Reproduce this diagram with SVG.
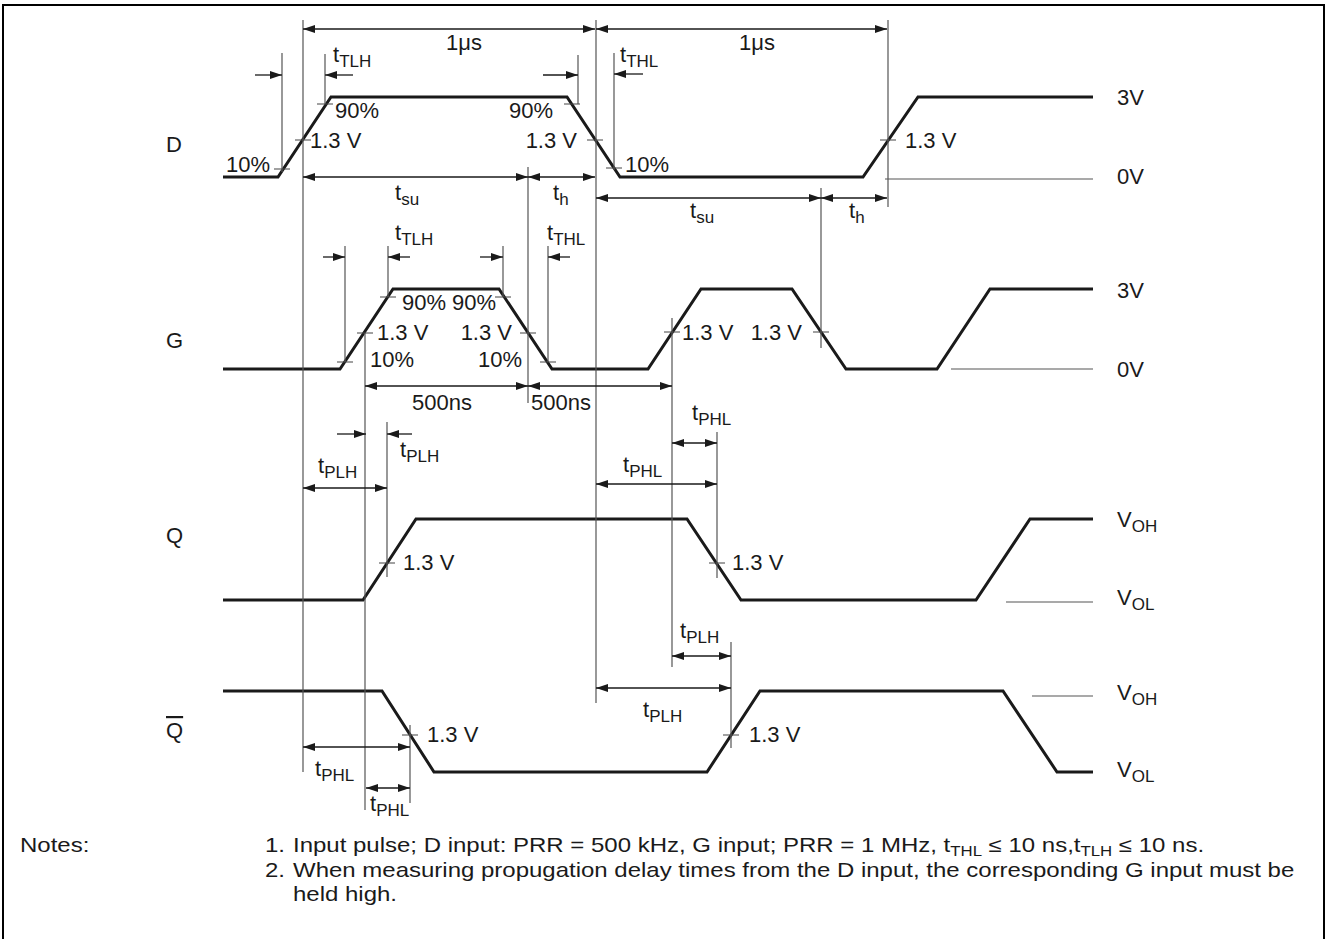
<svg xmlns="http://www.w3.org/2000/svg" width="1328" height="939" viewBox="0 0 1328 939">
<style>
text{font-family:"Liberation Sans",Arial,sans-serif;font-size:22px;fill:#1a1a1a}
.sub{font-size:17px}
.note{font-size:20px}
.nsub{font-size:14px}
.wave{fill:none;stroke:#1a1a1a;stroke-width:3;stroke-linejoin:miter}
.ref{fill:none;stroke:#555;stroke-width:1.2}
.tick{fill:none;stroke:#444;stroke-width:1.2}
.dim{fill:none;stroke:#1a1a1a;stroke-width:1.3}
.d2{marker-start:url(#ah);marker-end:url(#ah)}
.d1{marker-end:url(#ah)}
</style>
<defs>
<marker id="ah" viewBox="0 0 12 8" refX="12" refY="4" markerWidth="12" markerHeight="8" markerUnits="userSpaceOnUse" orient="auto-start-reverse">
<path d="M0,0 L12,4 L0,8 z" fill="#1a1a1a"/>
</marker>
</defs>
<rect x="3" y="5" width="1321" height="945" fill="#fff" stroke="#000" stroke-width="2"/>

<g id="signal-D">
<text x="166" y="152">D</text>
<path class="wave" d="M223,177 L278,177 L331,97 L567,97 L620,177 L863,177 L918,97 L1093,97"/>
<line class="ref" x1="885" y1="179" x2="1093" y2="179"/>
<text x="1117" y="105">3V</text>
<text x="1117" y="184">0V</text>
<path class="tick" d="M274,169h16M295,140h16M317,104h16M564,104h16M587,140h16M606,168h16M880,140h16"/>
<text x="270" y="172" text-anchor="end">10%</text>
<text x="310" y="148">1.3 V</text>
<text x="335" y="118">90%</text>
<text x="553" y="118" text-anchor="end">90%</text>
<text x="577" y="148" text-anchor="end">1.3 V</text>
<text x="625" y="172">10%</text>
<text x="905" y="148">1.3 V</text>
</g>

<g id="signal-G">
<text x="166" y="348">G</text>
<path class="wave" d="M223,369 L340,369 L393,289 L499,289 L552,369 L648,369 L701,289 L792,289 L846,369 L937,369 L990,289 L1093,289"/>
<line class="ref" x1="951" y1="369" x2="1093" y2="369"/>
<text x="1117" y="298">3V</text>
<text x="1117" y="377">0V</text>
<path class="tick" d="M337,362h16M357,333h16M380,297h16M495,297h16M520,333h16M540,362h16M664,332h16M813,332h16"/>
<text x="402" y="310">90%</text>
<text x="452" y="310">90%</text>
<text x="377" y="340">1.3 V</text>
<text x="512" y="340" text-anchor="end">1.3 V</text>
<text x="370" y="367">10%</text>
<text x="522" y="367" text-anchor="end">10%</text>
<text x="682" y="340">1.3 V</text>
<text x="802" y="340" text-anchor="end">1.3 V</text>
</g>

<g id="signal-Q">
<text x="166" y="543">Q</text>
<path class="wave" d="M223,600 L363,600 L416,519 L687,519 L741,600 L976,600 L1030,519 L1093,519"/>
<line class="ref" x1="1006" y1="602" x2="1093" y2="602"/>
<text x="1117" y="527">V<tspan class="sub" dy="5">OH</tspan></text>
<text x="1117" y="605">V<tspan class="sub" dy="5">OL</tspan></text>
<path class="tick" d="M379,563h16M709,563h16"/>
<text x="403" y="570">1.3 V</text>
<text x="732" y="570">1.3 V</text>
</g>

<g id="signal-Qbar">
<text x="166" y="738" text-decoration="overline">Q</text>
<path class="wave" d="M223,691 L382,691 L434,772 L707,772 L760,691 L1003,691 L1057,772 L1093,772"/>
<line class="ref" x1="1032" y1="696" x2="1093" y2="696"/>
<text x="1117" y="700">V<tspan class="sub" dy="5">OH</tspan></text>
<text x="1117" y="777">V<tspan class="sub" dy="5">OL</tspan></text>
<path class="tick" d="M402,735h16M723,735h16"/>
<text x="427" y="742">1.3 V</text>
<text x="749" y="742">1.3 V</text>
</g>

<g id="connectors">
<g id="guides">
<path class="ref" d="M303,20V772M596,20V703M888,20V207M282,53V172M325,54V104M578,55V104M614,53V170M528,167V403M821,188V348M345,246V362M388,246V297M503,246V297M548,246V362M365,333V810M672,318V667M387,422V577M717,432V578M410,725V803M731,642V748"/>
</g>
<g id="arrows">
<line class="dim d2" x1="303" y1="29" x2="595" y2="29"/>
<line class="dim d2" x1="596" y1="29" x2="887" y2="29"/>
<line class="dim d1" x1="255" y1="75" x2="282" y2="75"/>
<line class="dim d1" x1="353" y1="75" x2="325" y2="75"/>
<line class="dim d1" x1="543" y1="75" x2="578" y2="75"/>
<line class="dim d1" x1="643" y1="74" x2="614" y2="74"/>
<line class="dim d2" x1="303" y1="177" x2="528" y2="177"/>
<line class="dim d2" x1="528" y1="177" x2="595" y2="177"/>
<line class="dim d2" x1="596" y1="198" x2="821" y2="198"/>
<line class="dim d2" x1="821" y1="198" x2="887" y2="198"/>
<line class="dim d1" x1="323" y1="257" x2="345" y2="257"/>
<line class="dim d1" x1="410" y1="257" x2="388" y2="257"/>
<line class="dim d1" x1="480" y1="257" x2="503" y2="257"/>
<line class="dim d1" x1="570" y1="257" x2="548" y2="257"/>
<line class="dim d2" x1="365" y1="386" x2="528" y2="386"/>
<line class="dim d2" x1="528" y1="386" x2="672" y2="386"/>
<line class="dim d1" x1="337" y1="434" x2="366" y2="434"/>
<line class="dim d1" x1="412" y1="434" x2="387" y2="434"/>
<line class="dim d2" x1="303" y1="488" x2="387" y2="488"/>
<line class="dim d2" x1="672" y1="443" x2="717" y2="443"/>
<line class="dim d2" x1="596" y1="484" x2="717" y2="484"/>
<line class="dim d2" x1="672" y1="656" x2="731" y2="656"/>
<line class="dim d2" x1="596" y1="688" x2="731" y2="688"/>
<line class="dim d2" x1="303" y1="747" x2="410" y2="747"/>
<line class="dim d2" x1="366" y1="788" x2="410" y2="788"/>
</g>
<g id="dim-labels">
<text x="464" y="50" text-anchor="middle">1μs</text>
<text x="757" y="50" text-anchor="middle">1μs</text>
<text x="333" y="62">t<tspan class="sub" dy="5">TLH</tspan></text>
<text x="620" y="62">t<tspan class="sub" dy="5">THL</tspan></text>
<text x="395" y="200">t<tspan class="sub" dy="5">su</tspan></text>
<text x="553" y="200">t<tspan class="sub" dy="5">h</tspan></text>
<text x="690" y="218">t<tspan class="sub" dy="5">su</tspan></text>
<text x="849" y="218">t<tspan class="sub" dy="5">h</tspan></text>
<text x="395" y="240">t<tspan class="sub" dy="5">TLH</tspan></text>
<text x="547" y="240">t<tspan class="sub" dy="5">THL</tspan></text>
<text x="442" y="410" text-anchor="middle">500ns</text>
<text x="531" y="410">500ns</text>
<text x="692" y="420">t<tspan class="sub" dy="5">PHL</tspan></text>
<text x="400" y="457">t<tspan class="sub" dy="5">PLH</tspan></text>
<text x="318" y="473">t<tspan class="sub" dy="5">PLH</tspan></text>
<text x="623" y="472">t<tspan class="sub" dy="5">PHL</tspan></text>
<text x="680" y="638">t<tspan class="sub" dy="5">PLH</tspan></text>
<text x="643" y="717">t<tspan class="sub" dy="5">PLH</tspan></text>
<text x="315" y="776">t<tspan class="sub" dy="5">PHL</tspan></text>
<text x="370" y="811">t<tspan class="sub" dy="5">PHL</tspan></text>
</g>
</g>

<g id="notes">
<text class="note" transform="translate(20,852) scale(1.2,1)">Notes:</text>
<text class="note" transform="translate(265,852) scale(1.2,1)">1.</text>
<text class="note" transform="translate(293,852) scale(1.2,1)">Input pulse; D input: PRR = 500 kHz, G input; PRR = 1 MHz, t<tspan class="nsub" dy="4">THL</tspan><tspan dy="-4"> ≤ 10 ns,t</tspan><tspan class="nsub" dy="4">TLH</tspan><tspan dy="-4"> ≤ 10 ns.</tspan></text>
<text class="note" transform="translate(265,877) scale(1.2,1)">2.</text>
<text class="note" transform="translate(293,877) scale(1.2,1)">When measuring propugation delay times from the D input, the corresponding G input must be</text>
<text class="note" transform="translate(293,901) scale(1.2,1)">held high.</text>
</g>
</svg>
